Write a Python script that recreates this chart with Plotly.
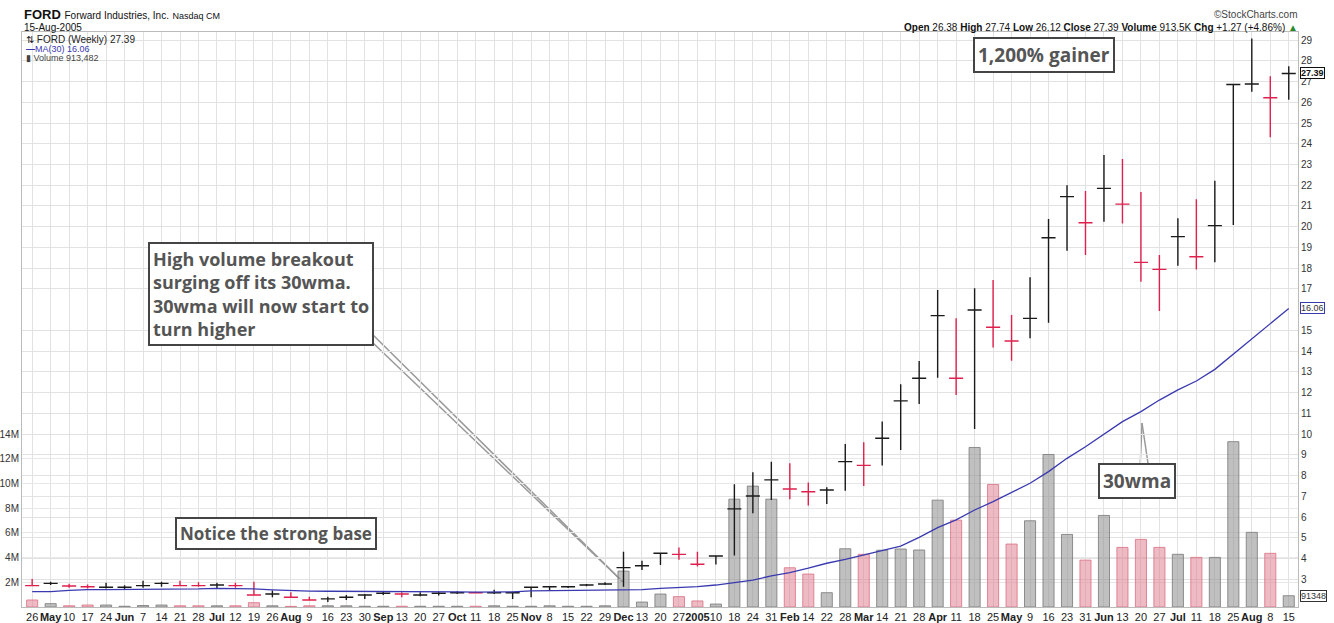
import plotly.graph_objects as go

# weekly bars, Apr 26 2004 .. Aug 15 2005
week_labels = ['26', 'May', '10', '17', '24', 'Jun', '7', '14', '21', '28', 'Jul', '12', '19', '26',
               'Aug', '9', '16', '23', '30', 'Sep', '13', '20', '27', 'Oct', '11', '18', '25',
               'Nov', '8', '15', '22', '29', 'Dec', '13', '20', '27', '2005', '10', '18', '24', '31',
               'Feb', '14', '22', '28', 'Mar', '14', '21', '28', 'Apr', '11', '18', '25', 'May',
               '9', '16', '23', '31', 'Jun', '13', '20', '27', 'Jul', '11', '18', '25', 'Aug', '8', '15']

high = [3.01, 2.88, 2.78, 2.75, 2.83, 2.71, 2.93, 2.88, 2.93, 2.85, 2.83, 2.83, 2.88, 2.45, 2.37,
        2.16, 2.16, 2.24, 2.29, 2.40, 2.37, 2.37, 2.40, 2.42, 2.40, 2.49, 2.40, 2.61, 2.64, 2.66,
        2.77, 2.85, 4.33, 3.89, 4.25, 4.53, 4.33, 4.12, 7.58, 8.16, 8.67, 8.59, 7.67, 7.43, 9.52,
        9.60, 10.60, 12.40, 13.52, 16.95, 15.58, 17.03, 17.43, 15.74, 17.56, 20.37, 22.0, 21.72,
        23.46, 23.26, 21.67, 18.63, 20.41, 21.32, 22.22, 26.9, 29.08, 27.26, 27.74]
low = [2.68, 2.72, 2.59, 2.55, 2.55, 2.52, 2.59, 2.64, 2.66, 2.64, 2.57, 2.59, 2.22, 2.13, 2.13,
       2.0, 1.9, 2.0, 2.05, 2.24, 2.13, 2.18, 2.21, 2.29, 2.32, 2.29, 2.05, 2.13, 2.45, 2.58,
       2.66, 2.72, 2.64, 3.45, 3.68, 3.94, 3.61, 3.71, 4.14, 6.18, 6.82, 6.86, 6.55, 6.63, 7.27,
       7.50, 8.48, 9.23, 11.45, 12.72, 11.88, 10.25, 14.17, 13.54, 14.62, 15.37, 18.84, 18.63,
       20.24, 20.16, 17.35, 15.93, 18.12, 17.94, 18.28, 20.08, 26.51, 24.31, 26.12]
close = [2.69, 2.80, 2.675, 2.64, 2.61, 2.61, 2.69, 2.80, 2.69, 2.69, 2.72, 2.69, 2.24, 2.29, 2.13,
         2.0, 2.05, 2.13, 2.24, 2.32, 2.29, 2.24, 2.32, 2.35, 2.35, 2.35, 2.35, 2.61, 2.64, 2.64,
         2.72, 2.77, 3.56, 3.65, 4.25, 4.20, 3.72, 4.12, 6.39, 7.01, 7.79, 7.35, 7.22, 7.30, 8.67,
         8.49, 9.80, 11.60, 12.69, 15.71, 12.69, 15.98, 15.15, 14.49, 15.58, 19.47, 21.45, 20.19,
         21.85, 21.09, 18.28, 17.94, 19.52, 18.55, 20.05, 26.86, 26.88, 26.22, 27.39]
volume_m = [0.57, 0.27, 0.10, 0.16, 0.16, 0.06, 0.12, 0.16, 0.10, 0.10, 0.10, 0.10, 0.35, 0.10, 0.05,
            0.10, 0.10, 0.10, 0.06, 0.06, 0.06, 0.06, 0.06, 0.06, 0.06, 0.10, 0.06, 0.06, 0.10, 0.06,
            0.06, 0.10, 2.91, 0.40, 1.05, 0.84, 0.49, 0.24, 8.74, 9.80, 8.74, 3.18, 2.67, 1.16, 4.72,
            4.27, 4.60, 4.70, 4.62, 8.66, 7.04, 12.93, 9.93, 5.10, 6.99, 12.36, 5.88, 3.80, 7.42,
            4.83, 5.48, 4.83, 4.27, 4.02, 4.02, 13.4, 6.05, 4.35, 0.913482]
ma30 = [2.40, 2.40, 2.46, 2.50, 2.50, 2.50, 2.50, 2.51, 2.52, 2.53, 2.56, 2.56, 2.53, 2.49, 2.45,
        2.43, 2.42, 2.42, 2.42, 2.42, 2.41, 2.40, 2.40, 2.39, 2.38, 2.38, 2.39, 2.44, 2.45, 2.46,
        2.47, 2.48, 2.49, 2.50, 2.56, 2.60, 2.64, 2.72, 2.83, 2.96, 3.16, 3.32, 3.53, 3.77, 3.96,
        4.17, 4.38, 4.60, 5.02, 5.49, 5.86, 6.34, 6.74, 7.17, 7.63, 8.19, 8.83, 9.39, 9.99, 10.60,
        11.08, 11.64, 12.13, 12.56, 13.12, 13.85, 14.60, 15.32, 16.06]
# 1 = up week (black), 0 = down week (red)
up = [0, 1, 0, 0, 1, 1, 1, 1, 0, 0, 1, 0, 0, 1, 0, 0, 1, 1, 1, 1, 0, 1, 1, 1, 0, 1, 1, 1, 1, 1,
      1, 1, 1, 1, 1, 0, 0, 1, 1, 1, 1, 0, 0, 1, 1, 0, 1, 1, 1, 1, 0, 1, 0, 0, 1, 1, 1, 0, 1, 0,
      0, 0, 1, 0, 1, 1, 1, 0, 1]

vol_ticks = [2, 4, 6, 8, 10, 12, 14]
# 2 and 16 sit under the last-value tags on the right axis
price_ticks = [p for p in range(3, 30) if p != 16]

FONT = 'Liberation Sans, Arial, sans-serif'
NOTE_FONT = 'Open Sans, Roboto, sans-serif'
L, R, T, B = 22, 1298, 32, 607


def px(xp):
    return (xp - L) / (R - L)


def py(yp):
    return (B - yp) / (B - T)


x = list(range(len(close)))
fig = go.Figure()

fig.add_trace(go.Bar(
    x=x, y=[v * 1e6 for v in volume_m], yaxis='y', width=0.6,
    marker=dict(color=['rgba(150,150,150,0.6)' if u else 'rgba(222,120,140,0.5)' for u in up],
                line=dict(color=['rgba(120,120,120,0.8)' if u else 'rgba(220,110,130,0.8)' for u in up],
                          width=1)),
    hoverinfo='skip', showlegend=False))

for flag, col in [(1, '#1a1a1a'), (0, '#e0204c')]:
    ix = [i for i in x if up[i] == flag]
    fig.add_trace(go.Ohlc(
        x=ix, open=[close[i] for i in ix], high=[high[i] for i in ix],
        low=[low[i] for i in ix], close=[close[i] for i in ix], yaxis='y2',
        increasing_line_color=col, decreasing_line_color=col, line_width=1.4,
        tickwidth=0.38, showlegend=False, hoverinfo='skip'))

fig.add_trace(go.Scatter(x=x, y=ma30, yaxis='y2', mode='lines',
                         line=dict(color='#3a3ab0', width=1.3), showlegend=False, hoverinfo='skip'))

ticktext = [('<b>%s</b>' % t) if not t.isdigit() or t == '2005' else t for t in week_labels]

fig.update_layout(
    width=1334, height=623,
    margin=dict(l=L, r=1334 - R, t=T, b=623 - B, autoexpand=False),
    paper_bgcolor='white', plot_bgcolor='white',
    font=dict(family=FONT, size=11, color='#222'),
    xaxis=dict(range=[-0.55, 68.5], tickmode='array', tickvals=x, ticktext=ticktext,
               showgrid=True, gridcolor='#e2e2e2', zeroline=False, ticks='', automargin=False,
               rangeslider=dict(visible=False), showline=True, linecolor='#bbb', mirror=True,
               tickfont=dict(size=11, color='#222'), tickangle=0),
    yaxis=dict(range=[0, 46.6e6], tickmode='array', tickvals=[v * 1e6 for v in vol_ticks],
               ticktext=['%dM' % v for v in vol_ticks], side='left', showgrid=True, automargin=False,
               gridcolor='#e8e8e8', zeroline=False, ticks='', tickfont=dict(size=10, color='#333'),
               showline=True, linecolor='#bbb'),
    yaxis2=dict(range=[1.66, 29.39], tickmode='array', tickvals=price_ticks, overlaying='y',
                side='right', showgrid=True, gridcolor='#e2e2e2', zeroline=False, ticks='',
                automargin=False, tickfont=dict(size=10, color='#333'), showline=True,
                linecolor='#bbb'),
)

ann = []
# header
ann.append(dict(x=px(22), y=py(15), xref='paper', yref='paper', xanchor='left', yanchor='middle',
                showarrow=False,
                text='<b>FORD</b> <span style="font-size:10px">Forward Industries, Inc.</span> '
                     '<span style="font-size:9px">Nasdaq CM</span>',
                font=dict(size=13, color='#111')))
ann.append(dict(x=px(22), y=py(27), xref='paper', yref='paper', xanchor='left', yanchor='middle',
                showarrow=False, text='15-Aug-2005', font=dict(size=10, color='#111')))
ann.append(dict(x=px(1300), y=py(15), xref='paper', yref='paper', xanchor='right', yanchor='middle',
                showarrow=False, text='©StockCharts.com', font=dict(size=10, color='#444')))
ann.append(dict(x=px(1300), y=py(27), xref='paper', yref='paper', xanchor='right', yanchor='middle',
                showarrow=False,
                text='<b>Open</b> 26.38 <b>High</b> 27.74 <b>Low</b> 26.12 <b>Close</b> 27.39 '
                     '<b>Volume</b> 913.5K <b>Chg</b> +1.27 (+4.86%) <span style="color:#2a8a2a">▲</span>',
                font=dict(size=10, color='#111')))
# legend block
ann.append(dict(x=px(24), y=py(39), xref='paper', yref='paper', xanchor='left', yanchor='middle',
                showarrow=False, text='⇅ FORD (Weekly) 27.39', font=dict(size=10, color='#222')))
ann.append(dict(x=px(24), y=py(49), xref='paper', yref='paper', xanchor='left', yanchor='middle',
                showarrow=False, text='<b>—</b>MA(30) 16.06', font=dict(size=9, color='#3a3ab0')))
ann.append(dict(x=px(24), y=py(58), xref='paper', yref='paper', xanchor='left', yanchor='middle',
                showarrow=False, text='▮ Volume 913,482', font=dict(size=9, color='#444')))
# last value tags on the right axis
ann.append(dict(x=1, xref='paper', y=close[-1], yref='y2', xanchor='left', xshift=2, showarrow=False,
                text='<b>%.2f</b>' % close[-1], font=dict(size=9, color='#111'),
                bordercolor='#111', borderwidth=1, borderpad=0, bgcolor='white'))
ann.append(dict(x=1, xref='paper', y=ma30[-1], yref='y2', xanchor='left', xshift=2, showarrow=False,
                text='%.2f' % ma30[-1], font=dict(size=9, color='#333'),
                bordercolor='#3a3ab0', borderwidth=1, borderpad=0, bgcolor='white'))
ann.append(dict(x=1, xref='paper', y=volume_m[-1] * 1e6, yref='y', xanchor='left', xshift=2,
                showarrow=False, text='%d' % round(volume_m[-1] * 1e6 / 10),
                font=dict(size=9, color='#333'),
                bordercolor='#333', borderwidth=1, borderpad=0, bgcolor='white'))

# commentary boxes
note = dict(xref='paper', yref='paper', showarrow=False, bgcolor='white', bordercolor='#444',
            borderwidth=2, borderpad=3, align='left')
ann.append(dict(note, x=px(148), y=py(242), xanchor='left', yanchor='top',
                text='<b>High volume breakout<br>surging off its 30wma.<br>30wma will now start to<br>turn higher</b>',
                font=dict(family=NOTE_FONT, color='#555', size=18)))
ann.append(dict(note, x=px(175), y=py(517), xanchor='left', yanchor='top',
                text='<b>Notice the strong base</b>', font=dict(family=NOTE_FONT, color='#555', size=17)))
ann.append(dict(note, x=px(973), y=py(37), xanchor='left', yanchor='top',
                text='<b>1,200% gainer</b>', font=dict(family=NOTE_FONT, color='#555', size=19)))
ann.append(dict(note, x=px(1098), y=py(463), xanchor='left', yanchor='top',
                text='<b>30wma</b>', font=dict(family=NOTE_FONT, color='#555', size=19)))
fig.update_layout(annotations=ann)

# pointer lines from the commentary boxes (they start under the box)
pointers = [((368, 330), (624, 583)), ((372, 342), (624, 583)),
            ((1140, 470), (1142, 423)), ((1149, 470), (1142, 423))]
fig.update_layout(shapes=[dict(type='line', xref='paper', yref='paper',
                               x0=px(a[0]), y0=py(a[1]), x1=px(b[0]), y1=py(b[1]),
                               line=dict(color='#999', width=1.5), layer='below')
                          for a, b in pointers])

# the page body has a default margin; drop it so the chart sits at the window corner
fig.write_html('out.html', config={'displayModeBar': False},
               post_script="document.body.style.margin='0';")
